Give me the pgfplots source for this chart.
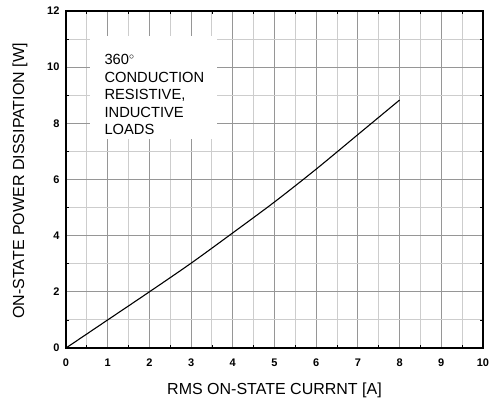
\documentclass[border=0pt]{standalone}
\usepackage{fontspec}
\setmainfont{Liberation Sans}
\usepackage{pgfplots}
\pgfplotsset{compat=1.18}
\definecolor{majgrid}{RGB}{150,150,150}
\definecolor{mingrid}{RGB}{205,205,205}
\begin{document}
\begin{tikzpicture}[x=1pt,y=1pt]
\begin{axis}[
  at={(0,0)}, anchor=south west,
  scale only axis, width=417pt, height=337pt,
  xmin=0, xmax=10, ymin=0, ymax=12,
  xtick={0,1,...,10}, ytick={0,2,...,12},
  minor xtick={0.5,1.5,...,9.5}, minor ytick={1,3,...,11},
  grid=both,
  major grid style={majgrid, line width=1.1pt},
  minor grid style={mingrid, line width=0.9pt},
  tick align=inside,
  major tick length=0pt, minor tick length=3pt,
  tick style={black, line width=0.8pt},
  axis line style={black, line width=1.4pt},
  /pgf/number format/assume math mode=true,
  ticklabel style={font=\fontsize{11}{12}\selectfont\bfseries},
  xticklabel style={anchor=center, yshift=-15pt},
  yticklabel style={xshift=-3pt},
]
\addplot[black, line width=1.1pt, smooth] coordinates {
  (0,0) (1,1.0) (2,2.0) (3,3.02) (4,4.1) (5,5.2) (6,6.37) (7,7.6) (8,8.83)
};
\node[fill=white, inner sep=0pt, minimum width=127pt, minimum height=103pt, anchor=north west] at (axis cs:0.57,11.1) {};
\node[anchor=north west, align=left, inner sep=0pt, font=\fontsize{14.7}{17.5}\selectfont] at (axis cs:0.92,10.45)
  {360$^{\circ}$\\CONDUCTION\\RESISTIVE,\\INDUCTIVE\\LOADS};
\end{axis}
\node[font=\fontsize{16}{18}\selectfont, anchor=center] at (208.5pt,-42pt) {RMS ON-STATE CURRNT [A]};
\node[font=\fontsize{16}{18}\selectfont, anchor=center, rotate=90] at (-46pt,167pt) {ON-STATE POWER DISSIPATION [W]};
\pgfresetboundingbox
\path[use as bounding box] (-66pt,-57pt) rectangle (425pt,348pt);
\end{tikzpicture}
\end{document}
